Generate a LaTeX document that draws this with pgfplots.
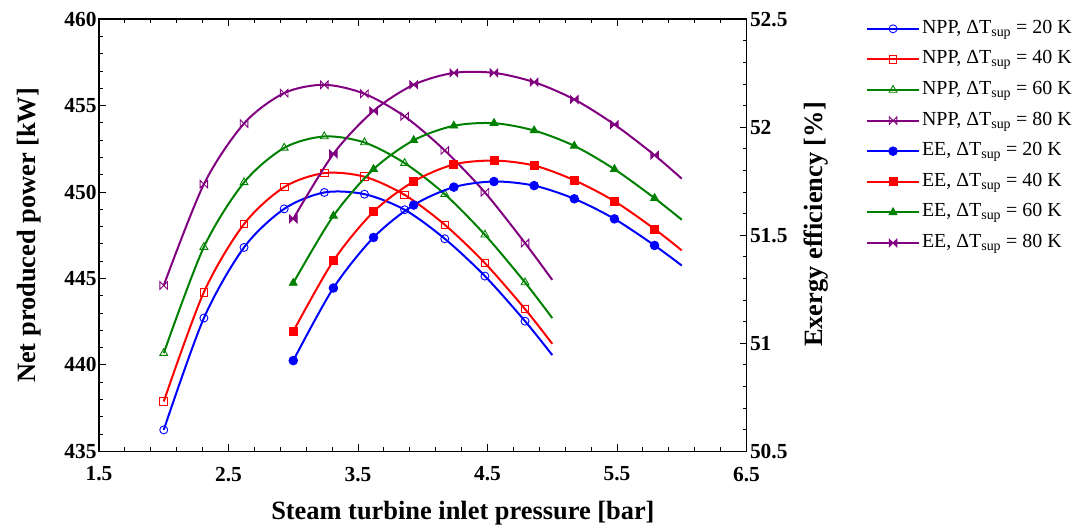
\documentclass[border=0pt]{standalone}
\usepackage{pgfplots}
\pgfplotsset{compat=1.18}
\usepackage{fontspec}
\setmainfont{Liberation Serif}
\definecolor{cblue}{RGB}{0,0,255}
\definecolor{cred}{RGB}{255,0,0}
\definecolor{cgreen}{RGB}{0,128,0}
\definecolor{cpurple}{RGB}{128,0,128}
\pgfdeclareplotmark{bowtie}{%
  \pgfpathmoveto{\pgfqpoint{-\pgfplotmarksize}{\pgfplotmarksize}}%
  \pgfpathlineto{\pgfqpoint{\pgfplotmarksize}{-\pgfplotmarksize}}%
  \pgfpathlineto{\pgfqpoint{\pgfplotmarksize}{\pgfplotmarksize}}%
  \pgfpathlineto{\pgfqpoint{-\pgfplotmarksize}{-\pgfplotmarksize}}%
  \pgfpathclose
  \pgfusepathqstroke}
\pgfdeclareplotmark{bowtie*}{%
  \pgfpathmoveto{\pgfqpoint{-\pgfplotmarksize}{\pgfplotmarksize}}%
  \pgfpathlineto{\pgfqpoint{\pgfplotmarksize}{-\pgfplotmarksize}}%
  \pgfpathlineto{\pgfqpoint{\pgfplotmarksize}{\pgfplotmarksize}}%
  \pgfpathlineto{\pgfqpoint{-\pgfplotmarksize}{-\pgfplotmarksize}}%
  \pgfpathclose
  \pgfusepathqfillstroke}
\pgfplotsset{
  npp/.style={line width=2bp, smooth, mark indices={1,2,3,4,5,6,7,8,9,10},
    mark options={fill=white, line width=0.9bp, solid}},
  ee/.style={line width=2bp, smooth, mark indices={1,2,3,4,5,6,7,8,9,10},
    mark options={line width=0.9bp, solid}},
  lnpp/.style={line width=2bp, mark options={fill=white, line width=0.9bp, solid}},
  lee/.style={line width=2bp, mark options={line width=0.9bp, solid}},
  common/.style={
    scale only axis, width=647.5bp, height=432bp,
    xmin=1.5, xmax=6.5,
    tick align=inside,
    major tick length=7bp, minor tick length=4bp,
    axis line style={line width=1.6bp},
    every tick/.style={black, line width=1bp},
    ticklabel style={font=\fontsize{21.5}{21.5}\selectfont\bfseries},
    /pgf/number format/assume math mode=true,
    label style={font=\fontsize{26.5}{26.5}\selectfont\bfseries},
  },
}
\begin{document}
\begin{tikzpicture}
\path[use as bounding box] (-99bp,-76.7bp) rectangle (978bp,451.3bp);
\begin{axis}[common,
  ymin=435, ymax=460,
  xtick={1.5,2.5,3.5,4.5,5.5,6.5}, ytick={435,440,445,450,455,460},
  minor x tick num=4, minor y tick num=4,
  xtick pos=both, ytick pos=left,
  xticklabel style={yshift=-12bp},
  yticklabel style={xshift=1bp},
  xlabel={Steam turbine inlet pressure [bar]},
  ylabel={Net produced power [kW]},
  xlabel style={at={(axis description cs:0.562,0)}, anchor=north, yshift=-46bp},
  ylabel style={at={(axis description cs:-0.108,0.5)}, anchor=center, rotate=0},
]
\addplot[npp, cblue, mark=o, mark size=4bp] coordinates {(2.00,436.24) (2.31,442.71) (2.62,446.80) (2.93,449.03) (3.24,449.98) (3.55,449.88) (3.86,448.98) (4.17,447.30) (4.48,445.14) (4.79,442.53) (5.00,440.57)};
\addplot[npp, cred, mark=square, mark size=3.8bp] coordinates {(2.00,437.88) (2.31,444.21) (2.62,448.15) (2.93,450.29) (3.24,451.10) (3.55,450.89) (3.86,449.84) (4.17,448.11) (4.48,445.89) (4.79,443.23) (5.00,441.22)};
\addplot[npp, cgreen, mark=triangle, mark size=4.5bp] coordinates {(2.00,440.68) (2.31,446.82) (2.62,450.56) (2.93,452.56) (3.24,453.22) (3.55,452.87) (3.86,451.68) (4.17,449.88) (4.48,447.53) (4.79,444.77) (5.00,442.71)};
\addplot[npp, cpurple, mark=bowtie, mark size=3.8bp] coordinates {(2.00,444.60) (2.31,450.46) (2.62,453.97) (2.93,455.73) (3.24,456.21) (3.55,455.69) (3.86,454.38) (4.17,452.41) (4.48,449.98) (4.79,447.05) (5.00,444.92)};
\end{axis}
\begin{axis}[common,
  ymin=50.5, ymax=52.5,
  axis x line=none, axis y line*=right,
  ytick={50.5,51,51.5,52,52.5}, minor y tick num=4,
  ylabel={Exergy efficiency [\%]},
  ylabel style={at={(axis description cs:1.108,0.525)}, anchor=center, rotate=0},
  legend cell align=left,
  legend image code/.code={\draw[mark repeat=2,mark phase=2,#1] plot coordinates {(0bp,0bp) (26bp,0bp) (52bp,0bp)};},
  legend style={at={(axis description cs:1.1846,1.0)}, anchor=north west,
    draw=none, fill=none, inner sep=0pt, outer sep=0pt,
    font=\fontsize{20}{20}\selectfont, row sep=11.6bp,
    nodes={inner sep=0bp, text height=14bp, text depth=5bp},
    /tikz/every odd column/.append style={column sep=2bp}},
]
\addlegendimage{lnpp, cblue, mark=o, mark size=4bp}
\addlegendimage{lnpp, cred, mark=square, mark size=3.8bp}
\addlegendimage{lnpp, cgreen, mark=triangle, mark size=4.5bp}
\addlegendimage{lnpp, cpurple, mark=bowtie, mark size=3.8bp}
\addlegendimage{lee, cblue, mark=*, mark size=4.3bp}
\addlegendimage{lee, cred, mark=square*, mark size=4bp}
\addlegendimage{lee, cgreen, mark=triangle*, mark size=4.5bp}
\addlegendimage{lee, cpurple, mark=bowtie*, mark size=3.8bp}
\addplot[ee, cblue, mark=*, mark size=4.3bp, forget plot] coordinates {(3.00,50.92) (3.31,51.256) (3.62,51.49) (3.93,51.64) (4.24,51.723) (4.55,51.749) (4.86,51.73) (5.17,51.669) (5.48,51.576) (5.79,51.453) (6.00,51.36)};
\addplot[ee, cred, mark=square*, mark size=4bp, forget plot] coordinates {(3.00,51.055) (3.31,51.382) (3.62,51.609) (3.93,51.749) (4.24,51.828) (4.55,51.846) (4.86,51.823) (5.17,51.755) (5.48,51.658) (5.79,51.529) (6.00,51.43)};
\addplot[ee, cgreen, mark=triangle*, mark size=4.5bp, forget plot] coordinates {(3.00,51.279) (3.31,51.59) (3.62,51.806) (3.93,51.94) (4.24,52.007) (4.55,52.019) (4.86,51.985) (5.17,51.914) (5.48,51.806) (5.79,51.672) (6.00,51.572)};
\addplot[ee, cpurple, mark=bowtie*, mark size=3.8bp, forget plot] coordinates {(3.00,51.576) (3.31,51.877) (3.62,52.076) (3.93,52.197) (4.24,52.252) (4.55,52.252) (4.86,52.209) (5.17,52.129) (5.48,52.013) (5.79,51.871) (6.00,51.762)};
\legend{NPP{,} ΔT\textsubscript{sup} = 20 K, NPP{,} ΔT\textsubscript{sup} = 40 K, NPP{,} ΔT\textsubscript{sup} = 60 K, NPP{,} ΔT\textsubscript{sup} = 80 K, EE{,} ΔT\textsubscript{sup} = 20 K, EE{,} ΔT\textsubscript{sup} = 40 K, EE{,} ΔT\textsubscript{sup} = 60 K, EE{,} ΔT\textsubscript{sup} = 80 K}
\end{axis}
\end{tikzpicture}
\end{document}
